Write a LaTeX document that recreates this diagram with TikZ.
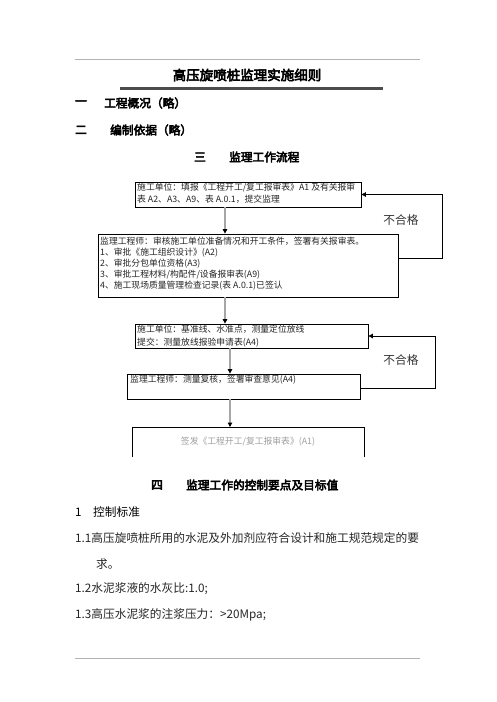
\documentclass[tikz,border=0pt]{standalone}
\usepackage{fontspec}
\usepackage{xcolor}
\usetikzlibrary{positioning,calc,arrows.meta}
\newfontfamily\cjk{Noto Sans CJK SC}
\newfontfamily\cjkhei[FakeBold=4]{Noto Sans CJK SC}
\tikzset{
  box/.style={draw=black, line width=0.8pt, inner sep=0pt},
  boxtext/.style={inner sep=0pt, align=left, text=black!85, font=\cjk\fontsize{8.8}{12}\selectfont},
  flow/.style={gray!70, line width=2pt, -{Triangle[black,length=4.5pt,width=4.5pt]}},
  back/.style={black, line width=0.8pt, -{Triangle[black,length=4.5pt,width=4.5pt]}},
  head/.style={inner sep=0pt, font=\cjkhei\fontsize{11.7}{14}\selectfont},
  body/.style={inner sep=0pt, text=black!85, font=\cjk\fontsize{11.7}{14}\selectfont},
}

\begin{document}
\begin{tikzpicture}[x=1pt,y=-1pt]
    \fill[white] (0,0) rectangle (496,702);
    \useasboundingbox (0,0) rectangle (496,702);

    % Page head
    \draw[gray!60, line width=0.6pt] (75,59) -- (420,59);
    \node[head, font=\cjkhei\fontsize{13.5}{16}\selectfont] (title) at (247,75) {高压旋喷桩监理实施细则};
    \draw[black!70, line width=3pt] (120,88) -- (383,88);
    \node[head] (n1) at (81,103) {一};
    \node[head, anchor=west] (s1) at (104,103) {工程概况（略）};
    \node[head] (n2) at (81,130) {二};
    \node[head, anchor=west] (s2) at (110,130) {编制依据（略）};
    \node[head] (n3) at (200,157) {三};
    \node[head, anchor=west] (s3) at (229,157) {监理工作流程};

    % Flow boxes
    \node[box, minimum width=226pt, minimum height=25pt] (b1) at (248,194.5) {};
    \node[box, minimum width=300pt, minimum height=63pt] (b2) at (248,265.5) {};
    \node[box, minimum width=233pt, minimum height=24pt] (b3) at (251.5,336) {};
    \node[box, minimum width=233pt, minimum height=25pt] (b4) at (243.5,386.5) {};
    \coordinate (b5nw) at (132,427);
    \coordinate (b5ne) at (364,427);
    \draw[box] ([yshift=-30pt]b5nw) -- (b5nw) -- (b5ne) -- ([yshift=-30pt]b5ne);

    \node[boxtext, anchor=north west] (t1) at (137,183)
        {施工单位：填报《工程开工/复工报审表》A1 及有关报审\\表 A2、A3、A9、表 A.0.1，提交监理};
    \node[boxtext, anchor=north west, font=\cjk\fontsize{8.8}{11}\selectfont] (t2) at (100,237)
        {监理工程师：审核施工单位准备情况和开工条件，签署有关报审表。\\
         1、审批《施工组织设计》(A2)\\
         2、审批分包单位资格(A3)\\
         3、审批工程材料/构配件/设备报审表(A9)\\
         4、施工现场质量管理检查记录(表 A.0.1)已签认};
    \node[boxtext, anchor=north west, font=\cjk\fontsize{8.8}{13}\selectfont] (t3) at (137,325)
        {施工单位：基准线、水准点，测量定位放线\\提交：测量放线报验申请表(A4)};
    \node[boxtext, anchor=west] (t4) at (130,380) {监理工程师：测量复核，签署审查意见(A4)};
    \node[boxtext, text=gray!75] (t5) at (248,442) {签发《工程开工/复工报审表》(A1)};

    % Arrows down
    \coordinate (ax1) at (225,0);
    \coordinate (ax2) at (230,0);
    \draw[flow] (b1.south -| ax1) -- (b2.north -| ax1);
    \draw[flow] (b2.south -| ax1) -- (b3.north -| ax1);
    \draw[flow] (b3.south -| ax2) -- (b4.north -| ax2);
    \draw[flow] (b4.south -| ax2) -- (b5nw -| ax2);

    % Back loops
    \coordinate (fb1) at (442,0);
    \coordinate (fb2) at (435,0);
    \coordinate (o2) at ([yshift=7.2pt]b2.east);
    \coordinate (o4) at ([yshift=-1.5pt]b4.east);
    \draw[back] (o2) -- (o2 -| fb1) |- (b1.east);
    \draw[back] (o4) -- (o4 -| fb2) |- (b3.east);
    \node[body, text=black!80] (ng1) at (401,220) {不合格};
    \node[body, text=black!80] (ng2) at (401,360) {不合格};

    % Section four
    \node[head] (n4) at (157,485) {四};
    \node[head, anchor=west] (s4) at (186,485) {监理工作的控制要点及目标值};
    \node[body, anchor=west, text=black] (p1) at (75,512) {1};
    \node[body, anchor=west, text=black] (p1t) at (93,512) {控制标准};
    \node[body, anchor=west] (p11) at (75,538) {1.1高压旋喷桩所用的水泥及外加剂应符合设计和施工规范规定的要};
    \node[body, anchor=west] (p11b) at (96,564) {求。};
    \node[body, anchor=west] (p12) at (75,589) {1.2水泥浆液的水灰比:1.0;};
    \node[body, anchor=west] (p13) at (75,615) {1.3高压水泥浆的注浆压力：>20Mpa;};
    \draw[gray!60, line width=0.6pt] (75,658) -- (420,658);
\end{tikzpicture}
\end{document}
